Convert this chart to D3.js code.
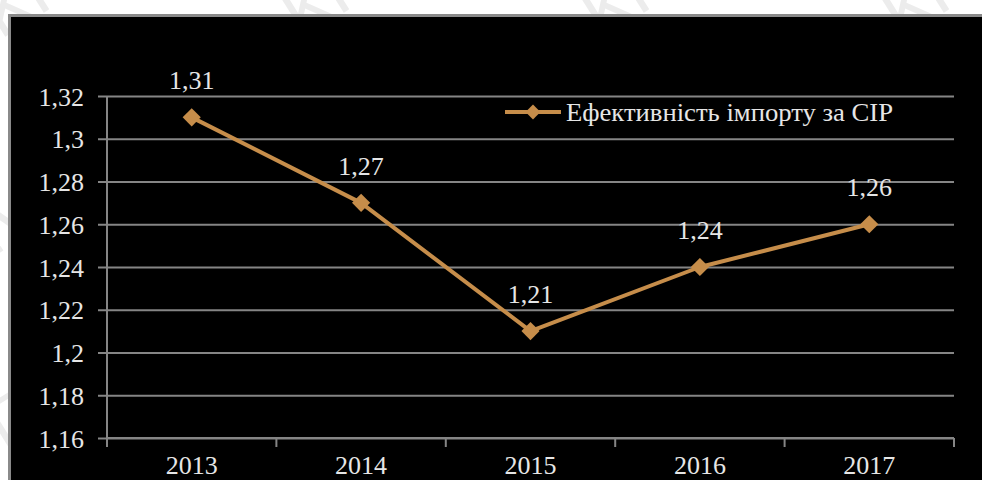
<!DOCTYPE html>
<html>
<head>
<meta charset="utf-8">
<script src="https://cdn.jsdelivr.net/npm/d3@7"></script>
<style>
  html, body { margin: 0; padding: 0; background: #fff; }
  svg { display: block; }
</style>
</head>
<body>
<svg id="chart" width="982" height="480"></svg>
<script>
// Import efficiency for CIF terms, by year
const years = ["2013", "2014", "2015", "2016", "2017"];
const efficiency = [1.31, 1.27, 1.21, 1.24, 1.26];
const valueLabels = ["1,31", "1,27", "1,21", "1,24", "1,26"];
const yTicks = [1.16, 1.18, 1.2, 1.22, 1.24, 1.26, 1.28, 1.3, 1.32];
const yTickLabels = ["1,16", "1,18", "1,2", "1,22", "1,24", "1,26", "1,28", "1,3", "1,32"];
const seriesName = "Ефективність імпорту за СІР";
const watermark = "КНТЕУ";

const W = 982, H = 480;
const lineColor = "#c68d4a";
const gridColor = "#858585";
const textColor = "#e6e6e6";
const font = "'Liberation Serif', 'Times New Roman', serif";

const svg = d3.select("#chart");

// page background with faint diagonal watermark
svg.append("rect").attr("width", W).attr("height", H).attr("fill", "#fff");
const wm = svg.append("g").attr("fill", "#ececec").attr("font-family", "'DejaVu Sans', sans-serif")
  .attr("font-size", 64);
for (let row = -1; row < 5; row++) {
  for (let col = -1; col < 5; col++) {
    wm.append("text")
      .attr("transform", `translate(${col * 300 + row * 80},${row * 150 + 40}) rotate(-32)`)
      .text(watermark);
  }
}

// dark plot panel
svg.append("rect")
  .attr("x", 9.5).attr("y", 15.5)
  .attr("width", W + 20).attr("height", H + 20)
  .attr("fill", "#000").attr("stroke", "#8a8a8a").attr("stroke-width", 3);

const x = d3.scaleBand().domain(years).range([107, 954]).padding(0);
const y = d3.scaleLinear().domain([1.16, 1.32]).range([438, 96]);

// horizontal gridlines + y axis labels
const yAxis = d3.axisLeft(y)
  .tickValues(yTicks)
  .tickFormat((d, i) => yTickLabels[i])
  .tickSize(-(954 - 98))
  .tickPadding(14);
const gy = svg.append("g").attr("transform", "translate(98,0)").call(yAxis);
gy.select(".domain").remove();
gy.selectAll(".tick line").attr("stroke", gridColor).attr("stroke-width", 2);
gy.selectAll(".tick text")
  .attr("fill", textColor).attr("font-family", font).attr("font-size", 26)
  .attr("x", -14).attr("dy", "0.35em");

// vertical axis line
svg.append("line")
  .attr("x1", 107).attr("x2", 107).attr("y1", y(1.32)).attr("y2", y(1.16))
  .attr("stroke", gridColor).attr("stroke-width", 2);

// category axis with boundary ticks
const boundaries = years.map(d => x(d)).concat([x.range()[1]]);
const gx = svg.append("g");
gx.append("line")
  .attr("x1", 107).attr("x2", 954).attr("y1", y(1.16)).attr("y2", y(1.16))
  .attr("stroke", gridColor).attr("stroke-width", 2);
gx.selectAll("line.tk").data(boundaries).join("line").attr("class", "tk")
  .attr("x1", d => d).attr("x2", d => d)
  .attr("y1", y(1.16)).attr("y2", y(1.16) + 9)
  .attr("stroke", gridColor).attr("stroke-width", 2);
gx.selectAll("text").data(years).join("text")
  .attr("x", d => x(d) + x.bandwidth() / 2)
  .attr("y", 474)
  .attr("text-anchor", "middle")
  .attr("fill", textColor).attr("font-family", font).attr("font-size", 26)
  .text(d => d);

// series line
const pts = years.map((d, i) => ({ year: d, v: efficiency[i], label: valueLabels[i] }));
const line = d3.line().x(d => x(d.year) + x.bandwidth() / 2).y(d => y(d.v));
svg.append("path").datum(pts)
  .attr("d", line).attr("fill", "none")
  .attr("stroke", lineColor).attr("stroke-width", 4).attr("stroke-linejoin", "round");

const diamond = d3.symbol(d3.symbolSquare, 165);
svg.selectAll("path.mark").data(pts).join("path").attr("class", "mark")
  .attr("d", diamond)
  .attr("transform", d => `translate(${x(d.year) + x.bandwidth() / 2},${y(d.v)}) rotate(45)`)
  .attr("fill", lineColor);

// value labels
svg.selectAll("text.val").data(pts).join("text").attr("class", "val")
  .attr("x", d => x(d.year) + x.bandwidth() / 2)
  .attr("y", d => y(d.v) - 28)
  .attr("text-anchor", "middle")
  .attr("fill", textColor).attr("font-family", font).attr("font-size", 26)
  .text(d => d.label);

// legend
const lg = svg.append("g").attr("transform", "translate(505,112)");
lg.append("line").attr("x1", 0).attr("x2", 56).attr("y1", 0).attr("y2", 0)
  .attr("stroke", lineColor).attr("stroke-width", 4);
lg.append("path").attr("d", d3.symbol(d3.symbolSquare, 110))
  .attr("transform", "translate(28,0) rotate(45)").attr("fill", lineColor);
lg.append("text").attr("x", 61).attr("y", 0).attr("dy", "0.35em")
  .attr("fill", textColor).attr("font-family", font).attr("font-size", 26)
  .attr("textLength", 327).attr("lengthAdjust", "spacingAndGlyphs")
  .text(seriesName);
</script>
</body>
</html>
